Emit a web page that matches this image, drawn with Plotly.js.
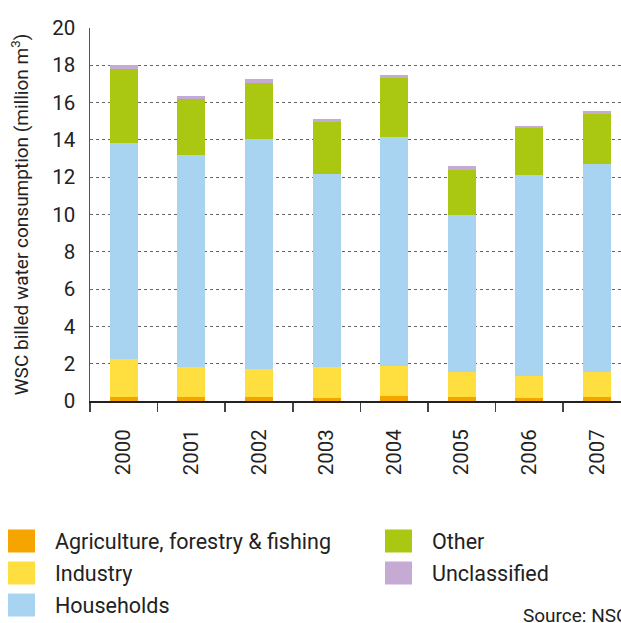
<!DOCTYPE html>
<html>
<head>
<meta charset="utf-8">
<script src="https://cdn.plot.ly/plotly-3.0.1.min.js"></script>
<style>
html,body{margin:0;padding:0;overflow:hidden;background:#fff;}
#chart{width:621px;height:623px;}
</style>
</head>
<body>
<div id="chart"></div>
<script>
const years = ['2000','2001','2002','2003','2004','2005','2006','2007'];
const agriculture = [0.21, 0.21, 0.21, 0.16, 0.27, 0.21, 0.16, 0.21];
const industry = [2.04, 1.61, 1.51, 1.66, 1.62, 1.34, 1.18, 1.34];
const households = [11.58, 11.37, 12.33, 10.35, 12.27, 8.42, 10.78, 11.16];
const other = [3.97, 2.99, 3.00, 2.79, 3.16, 2.42, 2.52, 2.69];
const unclassified = [0.22, 0.17, 0.22, 0.16, 0.16, 0.21, 0.11, 0.15];
const seriesNames = ['Agriculture, forestry & fishing', 'Industry', 'Households', 'Other', 'Unclassified'];
const seriesValues = [agriculture, industry, households, other, unclassified];
const seriesColors = ['#f6a400', '#ffde40', '#a8d4f2', '#aac712', '#c5abd3'];
const yTickVals = [0, 2, 4, 6, 8, 10, 12, 14, 16, 18, 20];

const FONT = 'Roboto, "DejaVu Sans", sans-serif';

const traces = seriesNames.map((name, i) => ({
  type: 'bar',
  name: name,
  x: years,
  y: seriesValues[i],
  marker: {color: seriesColors[i], line: {width: 0}},
  width: 0.415,
  showlegend: false,
  hoverinfo: 'x+y+name'
}));

// custom legend (two columns) built from series names/colors
const legendPos = [[0, 0], [0, 1], [0, 2], [1, 0], [1, 1]];
const colX = [8, 385];
const rowY = [541, 573, 605];
const W = 621, H = 623;
const shapes = [];
const annotations = [];
seriesNames.forEach((name, i) => {
  const [c, r] = legendPos[i];
  const x0 = colX[c], yc = rowY[r];
  shapes.push({
    type: 'rect', xref: 'paper', yref: 'paper',
    x0: (x0 - 90) / 531, x1: (x0 + 27 - 90) / 531,
    y0: (401 - (yc + 11.5)) / 373, y1: (401 - (yc - 11.5)) / 373,
    fillcolor: seriesColors[i], line: {width: 0}
  });
  annotations.push({
    xref: 'paper', yref: 'paper',
    x: (x0 + 45 - 90) / 531, y: (401 - yc) / 373,
    xanchor: 'left', yanchor: 'middle',
    text: name, showarrow: false,
    font: {family: FONT, size: 21.5, color: '#222'}
  });
});
annotations.push({
  xref: 'paper', yref: 'paper',
  x: (521 - 90) / 531, y: (401 - 615) / 373,
  xanchor: 'left', yanchor: 'middle',
  text: 'Source: NSO', showarrow: false,
  font: {family: FONT, size: 19, color: '#222'}
});

const layout = {
  width: W, height: H,
  margin: {l: 90, r: 0, t: 28, b: 222, pad: 0},
  barmode: 'stack',
  paper_bgcolor: '#fff', plot_bgcolor: '#fff',
  font: {family: FONT, size: 20, color: '#222'},
  xaxis: {
    type: 'category',
    range: [-0.5, 7.355],
    tickson: 'boundaries',
    ticks: 'outside', ticklen: 9, tickwidth: 1.5, tickcolor: '#444',
    tickangle: -90,
    ticklabelstandoff: 18,
    tickfont: {family: FONT, size: 20.5, color: '#222'},
    showline: true, linecolor: '#222', linewidth: 2,
    showgrid: false, zeroline: false, fixedrange: true
  },
  yaxis: {
    range: [0, 20],
    tickvals: yTickVals,
    ticktext: yTickVals.map(String),
    ticks: '', ticklabelstandoff: 9,
    tickfont: {family: FONT, size: 20.5, color: '#222'},
    showline: true, linecolor: '#555', linewidth: 1.5,
    showgrid: true, gridcolor: '#666', gridwidth: 1, griddash: 'dot',
    zeroline: false, fixedrange: true,
    title: {text: 'WSC billed water consumption (million m<sup>3</sup>)', font: {family: FONT, size: 19, color: '#222'}, standoff: 18}
  },
  shapes: shapes,
  annotations: annotations
};

Plotly.newPlot('chart', traces, layout, {displayModeBar: false, staticPlot: true});
</script>
</body>
</html>
